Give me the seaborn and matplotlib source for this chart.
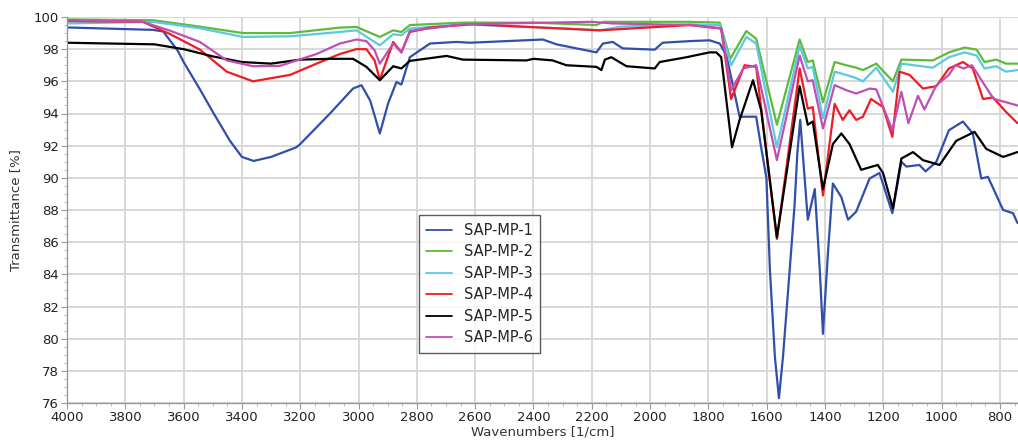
import matplotlib
matplotlib.use("Agg")
import matplotlib.pyplot as plt
import seaborn as sns
import pandas as pd
from matplotlib.ticker import MultipleLocator

# ---------------- data ----------------
labels = ["SAP-MP-1", "SAP-MP-2", "SAP-MP-3", "SAP-MP-4", "SAP-MP-5", "SAP-MP-6"]
colors = ["#2F4FAA", "#5DBB3A", "#5CC8E2", "#EE1D23", "#000000", "#C04FB4"]

wn1 = [4000, 3705, 3670, 3620, 3600, 3544, 3500, 3441, 3400, 3360, 3300, 3213, 3200, 3098, 3019, 2990,
       2960, 2927, 2899, 2870, 2853, 2824, 2755, 2664, 2618, 2368, 2321, 2184, 2162, 2128, 2094, 1984,
       1957, 1864, 1796, 1761, 1738, 1693, 1636, 1620, 1601, 1589, 1572, 1558, 1544, 1521, 1504, 1495,
       1485, 1459, 1435, 1418, 1407, 1390, 1373, 1344, 1321, 1293, 1247, 1213, 1169, 1138, 1121, 1076,
       1055, 1018, 975, 927, 893, 864, 841, 789, 755, 740]
t1 = [99.35, 99.2, 99.1, 97.9, 97.2, 95.5, 94.1, 92.3, 91.3, 91.05, 91.3, 91.9, 92.1, 94.0, 95.55, 95.76,
      94.8, 92.76, 94.6, 95.96, 95.8, 97.5, 98.35, 98.45, 98.4, 98.6, 98.3, 97.8, 98.35, 98.45, 98.05, 97.97,
      98.4, 98.5, 98.55, 98.35, 97.6, 93.8, 93.8, 92.0, 90.0, 84.3, 78.9, 76.3, 78.9, 84.3, 88.4, 91.5,
      93.6, 87.4, 89.3, 84.3, 80.3, 85.3, 89.65, 88.8, 87.4, 87.9, 89.96, 90.3, 87.8, 91.0, 90.7, 90.8,
      90.4, 91.0, 92.96, 93.5, 92.76, 89.96, 90.06, 88.0, 87.8, 87.2]

wn2 = [4000, 3705, 3544, 3396, 3235, 3064, 3007, 2927, 2881, 2853, 2824, 2642, 2400, 2184, 2160, 1864,
       1761, 1725, 1670, 1636, 1565, 1487, 1459, 1442, 1407, 1367, 1327, 1293, 1270, 1224, 1167, 1138,
       1030, 975, 921, 880, 853, 813, 779, 740]
t2 = [99.85, 99.8, 99.4, 99.0, 99.0, 99.34, 99.38, 98.76, 99.17, 99.07, 99.5, 99.65, 99.65, 99.5, 99.7, 99.7,
      99.65, 97.4, 99.13, 98.65, 93.3, 98.6, 97.2, 97.3, 94.7, 97.2, 97.0, 96.85, 96.7, 97.1, 96.0, 97.35,
      97.3, 97.8, 98.1, 97.97, 97.2, 97.35, 97.1, 97.1]

wn3 = [4000, 3705, 3544, 3396, 3235, 3064, 3007, 2927, 2881, 2853, 2824, 2642, 2290, 2173, 2100, 1864,
       1761, 1722, 1670, 1636, 1565, 1487, 1459, 1442, 1407, 1367, 1327, 1293, 1270, 1224, 1167, 1138,
       1030, 975, 921, 880, 853, 813, 779, 740]
t3 = [99.6, 99.7, 99.3, 98.76, 98.8, 99.07, 99.17, 98.24, 98.93, 98.86, 99.28, 99.55, 99.28, 99.17, 99.4, 99.55,
      99.5, 97.0, 98.76, 98.35, 91.9, 98.2, 96.8, 96.9, 93.7, 96.6, 96.4, 96.2, 96.0, 96.85, 95.35, 97.1,
      96.85, 97.5, 97.8, 97.6, 96.8, 96.94, 96.6, 96.7]

wn4 = [4000, 3740, 3650, 3544, 3452, 3362, 3235, 3144, 3064, 3007, 2973, 2945, 2927, 2881, 2853, 2824,
       2755, 2610, 2173, 1864, 1756, 1722, 1676, 1636, 1565, 1487, 1459, 1442, 1407, 1367, 1339, 1316,
       1293, 1270, 1242, 1201, 1169, 1144, 1110, 1064, 1018, 975, 927, 893, 858, 824, 779, 740]
t4 = [99.75, 99.7, 98.97, 97.97, 96.6, 96.0, 96.4, 97.1, 97.7, 98.0, 98.0, 97.3, 96.1, 98.45, 97.8, 99.07,
      99.34, 99.55, 99.17, 99.5, 99.28, 94.9, 97.0, 96.9, 86.2, 96.8, 94.3, 94.4, 88.9, 94.6, 93.6, 94.2,
      93.6, 93.8, 94.9, 94.4, 92.55, 96.6, 96.4, 95.55, 95.7, 96.8, 97.2, 96.8, 94.9, 95.0, 94.1, 93.4]

wn5 = [4000, 3700, 3600, 3500, 3400, 3300, 3200, 3098, 3019, 2973, 2927, 2881, 2853, 2824, 2698, 2642,
       2424, 2400, 2334, 2287, 2184, 2167, 2155, 2133, 2081, 1984, 1967, 1875, 1796, 1773, 1756, 1719,
       1693, 1647, 1619, 1565, 1487, 1459, 1442, 1407, 1373, 1344, 1316, 1276, 1219, 1201, 1167, 1138,
       1098, 1064, 1007, 950, 887, 847, 789, 740]
t5 = [98.4, 98.3, 98.0, 97.55, 97.2, 97.1, 97.35, 97.4, 97.4, 96.9, 96.07, 96.94, 96.8, 97.27, 97.58, 97.35,
      97.3, 97.4, 97.3, 97.0, 96.9, 96.7, 97.35, 97.5, 96.94, 96.8, 97.2, 97.5, 97.8, 97.8, 97.5, 91.9,
      93.6, 96.07, 94.2, 86.3, 95.7, 93.3, 93.5, 89.3, 92.1, 92.76, 92.1, 90.5, 90.8, 90.3, 88.1, 91.2,
      91.6, 91.1, 90.8, 92.3, 92.86, 91.8, 91.3, 91.6]

wn6 = [4000, 3740, 3650, 3544, 3452, 3362, 3270, 3144, 3064, 3007, 2973, 2945, 2927, 2881, 2853, 2824,
       2642, 2200, 2130, 1864, 1756, 1722, 1680, 1636, 1565, 1487, 1459, 1442, 1407, 1367, 1327, 1293,
       1247, 1224, 1169, 1138, 1114, 1081, 1059, 1018, 975, 953, 924, 896, 856, 821, 779, 740]
t6 = [99.8, 99.7, 99.17, 98.45, 97.3, 96.94, 96.96, 97.7, 98.35, 98.6, 98.5, 97.93, 97.1, 98.35, 97.8, 99.13,
      99.55, 99.7, 99.6, 99.5, 99.3, 95.45, 96.8, 97.0, 91.1, 97.6, 96.0, 96.07, 93.07, 95.76, 95.45, 95.24,
      95.55, 95.5, 92.96, 95.35, 93.4, 95.1, 94.25, 95.76, 96.4, 97.0, 96.8, 97.0, 95.86, 94.9, 94.7, 94.5]

x_ticks = list(range(800, 4001, 200))
y_ticks = list(range(76, 101, 2))

# ---------------- build long-form table ----------------
frames = []
for name, w, t in zip(labels, [wn1, wn2, wn3, wn4, wn5, wn6], [t1, t2, t3, t4, t5, t6]):
    frames.append(pd.DataFrame({"wn": w, "T": t, "sample": name}))
df = pd.concat(frames, ignore_index=True)

# ---------------- plot ----------------
sns.set_theme(style="white")
plt.rcParams["font.family"] = ["DejaVu Sans"]

fig = plt.figure(figsize=(10.18, 4.43), dpi=100)
ax = fig.add_axes([67 / 1018, 1 - 403 / 443, (1018 - 67) / 1018, (403 - 17) / 443])

sns.lineplot(data=df, x="wn", y="T", hue="sample", hue_order=labels,
             palette=dict(zip(labels, colors)), estimator=None, sort=False,
             linewidth=1.6, ax=ax)

ax.set_xlim(4000, 738)
ax.set_ylim(76, 100)
ax.set_xticks(x_ticks)
ax.set_yticks(y_ticks)
ax.xaxis.set_minor_locator(MultipleLocator(50))
ax.yaxis.set_minor_locator(MultipleLocator(0.5))
ax.grid(True, which="major", color="#D6D6D6", linewidth=1.3)
ax.set_axisbelow(True)

for s in ["top", "right"]:
    ax.spines[s].set_visible(False)
for s in ["left", "bottom"]:
    ax.spines[s].set_color("#9A9A9A")
    ax.spines[s].set_linewidth(1.0)

ax.tick_params(axis="both", which="major", direction="out", length=4, width=0.8,
               color="#9A9A9A", labelsize=9.5, labelcolor="#222222", pad=2)
ax.tick_params(axis="both", which="minor", direction="out", length=2, width=0.6,
               color="#B0B0B0")
ax.tick_params(axis="x", which="both", bottom=True)
ax.tick_params(axis="y", which="both", left=True)

ax.set_xlabel("Wavenumbers [1/cm]", fontsize=9.5, color="#333333", labelpad=1)
ax.set_ylabel("Transmittance [%]", fontsize=9.5, color="#333333", labelpad=8)

leg = ax.legend(loc="upper left", bbox_to_anchor=(0.362, 0.505), frameon=True,
                fancybox=False, edgecolor="#333333", fontsize=10.5, handlelength=1.8,
                handletextpad=0.8, labelspacing=0.45, borderpad=0.5, title=None)
leg.get_frame().set_linewidth(1.0)
for line in leg.get_lines():
    line.set_linewidth(1.3)

fig.savefig("out.png", dpi=100, facecolor="white")
